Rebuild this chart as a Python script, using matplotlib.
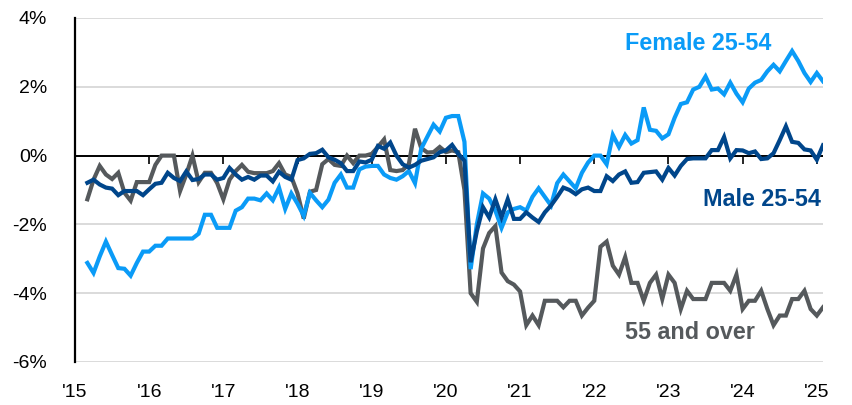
import numpy as np
import matplotlib
matplotlib.use("Agg")
import matplotlib.pyplot as plt

plt.rcParams["font.family"] = ["Liberation Sans", "DejaVu Sans"]

# monthly, Mar 2015 - Feb 2025 (month index counted from Jan 2015)
months = np.arange(2, 122)

female_25_54 = [
    -3.12, -3.41, -2.93, -2.5, -2.89, -3.27, -3.29, -3.49, -3.12, -2.79,
    -2.79, -2.62, -2.62, -2.41, -2.41, -2.41, -2.41, -2.41, -2.27, -1.72,
    -1.72, -2.1, -2.1, -2.1,
    -1.6, -1.5, -1.25, -1.25, -1.3, -1.1, -1.3, -0.93, -1.55, -1.1,
    -1.4, -1.75, -1.08, -1.3, -1.5, -1.28, -0.79, -0.55, -0.93, -0.93,
    -0.4, -0.32, -0.3, -0.3, -0.55, -0.65, -0.7, -0.6, -0.45, -0.8,
    0.2, 0.55, 0.9, 0.7, 1.1, 1.15, 1.15, 0.4,
    -3.3, -2.0, -1.1, -1.25, -1.6, -2.1, -1.65, -1.55, -1.5, -1.6,
    -1.2, -0.95, -1.2, -1.45, -0.8, -0.55, -0.75, -0.95, -0.5, -0.2,
    0.0, 0.0, -0.25, 0.6, 0.25, 0.6, 0.35, 0.45, 1.4, 0.75,
    0.72, 0.5, 0.62, 1.1, 1.5, 1.55, 1.92, 2.0, 2.3, 1.92,
    1.95, 1.78, 2.12, 1.8, 1.55, 1.95, 2.12, 2.2, 2.45, 2.64,
    2.45, 2.75, 3.04, 2.75, 2.4, 2.14, 2.4, 2.16,
]

male_25_54 = [
    -0.79, -0.7, -0.84, -0.93, -0.96, -1.15, -1.03, -1.03, -1.03, -1.15,
    -0.98, -0.82, -0.79, -0.5, -0.65, -0.74, -0.46, -0.71, -0.68, -0.55,
    -0.55, -0.7, -0.65, -0.36,
    -0.55, -0.7, -0.62, -0.7, -0.58, -0.58, -0.75, -0.47, -0.62, -0.7,
    -0.13, -0.08, 0.05, 0.07, 0.17, -0.05, -0.12, -0.22, -0.45, -0.45,
    -0.17, -0.2, -0.12, 0.28,
    0.2, 0.38, 0.0, -0.25, -0.35, -0.27, -0.15, -0.1, -0.05, 0.1,
    0.15, 0.31, 0.05, -0.15,
    -3.1, -2.2, -1.5, -1.8, -1.27, -1.79, -1.27, -1.84, -1.84, -1.65,
    -1.8, -1.93, -1.65, -1.45, -1.2, -0.93, -1.0, -1.12, -0.98, -0.93,
    -1.03, -1.03, -0.6, -0.74, -0.55, -0.46, -0.79, -0.77, -0.5, -0.48,
    -0.46, -0.7, -0.36, -0.58, -0.3, -0.1, -0.08, -0.08, -0.08, 0.16,
    0.16, 0.54, -0.08, 0.16, 0.15, 0.07, 0.12, -0.1, -0.08, 0.07,
    0.45, 0.85, 0.4, 0.37, 0.18, 0.15, -0.12, 0.3,
]

age_55_over = [
    -1.27, -0.7, -0.3, -0.55, -0.68, -0.5, -1.08, -1.31, -0.77, -0.77,
    -0.77, -0.27, 0.0, 0.0, 0.0, -1.03, -0.55, 0.0, -0.77, -0.5,
    -0.5, -0.8, -1.27, -0.7,
    -0.45, -0.27, -0.47, -0.51, -0.51, -0.51, -0.45, -0.22, -0.55, -0.62,
    -1.1, -1.83, -1.05, -1.0, -0.25, -0.1, -0.27, -0.3, 0.0, -0.22,
    0.0, 0.0, 0.05, 0.25,
    0.47, -0.42, -0.45, -0.42, -0.25, 0.78, 0.22, 0.09, 0.1, 0.25,
    0.1, 0.15, 0.1, -1.0,
    -4.0, -4.25, -2.7, -2.25, -2.05, -3.4, -3.65, -3.75, -3.95, -4.93,
    -4.65, -4.93, -4.22, -4.22, -4.22, -4.41, -4.22, -4.22, -4.65, -4.42,
    -4.22, -2.65, -2.5, -3.2, -3.46, -2.95, -3.7, -3.7, -4.22, -3.7,
    -3.46, -4.17, -3.46, -3.7, -4.46, -3.93, -4.17, -4.17, -4.17, -3.7,
    -3.7, -3.7, -3.93, -3.46, -4.46, -4.22, -4.22, -3.93, -4.46, -4.93,
    -4.65, -4.65, -4.17, -4.17, -3.93, -4.46, -4.65, -4.41,
]

year_ticks = list(range(2015, 2026))
year_labels = ["'%02d" % (y % 100) for y in year_ticks]
y_ticks = [-6, -4, -2, 0, 2, 4]

c_female = "#0A9BF7"
c_male = "#00468B"
c_old = "#55595C"

x = 2015 + months / 12.0

fig = plt.figure(figsize=(8.52, 4.05), dpi=100)
ax = fig.add_axes([75 / 852, 1 - 362 / 405, 748 / 852, 344 / 405])

ax.plot(x, age_55_over, color=c_old, lw=3.0, solid_joinstyle="miter", zorder=3)
ax.plot(x, female_25_54, color=c_female, lw=3.0, solid_joinstyle="miter", zorder=4)
ax.plot(x, male_25_54, color=c_male, lw=3.0, solid_joinstyle="miter", zorder=5)

ax.set_xlim(2015, 2015 + 121 / 12.0)
ax.set_ylim(-6, 4)
ax.set_yticks(y_ticks)
ax.set_yticklabels(["%d%%" % v for v in y_ticks])
ax.set_xticks(year_ticks)
ax.set_xticklabels(year_labels)
ax.tick_params(axis="both", length=0, labelsize=14, colors="black")
ax.tick_params(axis="y", pad=20)
ax.tick_params(axis="x", pad=16)

ax.grid(axis="y", color="#d4d4d4", lw=1.2)
ax.set_axisbelow(True)
for s in ["top", "right", "bottom"]:
    ax.spines[s].set_visible(False)
ax.spines["left"].set_linewidth(1.6)
ax.spines["left"].set_zorder(6)

# horizontal axis line at 0% with small year ticks hanging below it
ax.axhline(0, color="black", lw=1.4, zorder=2)
zero_ax = ax.secondary_xaxis(0.6)
zero_ax.set_alignment("bottom")
zero_ax.set_xticks(year_ticks)
zero_ax.set_xticklabels([])
zero_ax.tick_params(axis="x", direction="out", length=6, width=1.2,
                    labelbottom=False, labeltop=False)
zero_ax.spines["bottom"].set_visible(False)
zero_ax.spines["top"].set_visible(False)

ax.text(2022.42, 3.25, "Female 25-54", color=c_female, fontsize=16.8,
        fontweight="bold", ha="left", va="center")
ax.text(2025.06, -1.29, "Male 25-54", color=c_male, fontsize=16.8,
        fontweight="bold", ha="right", va="center")
ax.text(2022.42, -5.15, "55 and over", color=c_old, fontsize=16.8,
        fontweight="bold", ha="left", va="center")

fig.savefig("out.png", dpi=100)
